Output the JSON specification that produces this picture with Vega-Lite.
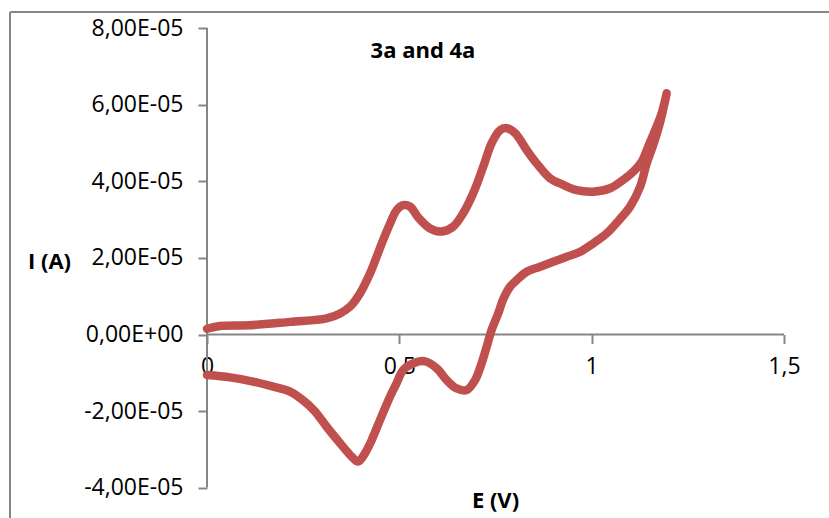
{
  "$schema": "https://vega.github.io/schema/vega-lite/v6.json",
  "width": 819,
  "height": 506,
  "autosize": "none",
  "padding": {"left": 10, "top": 12, "right": 0, "bottom": 0},
  "background": "white",
  "config": {"view": {"stroke": null}},
  "data": {"values": [{}]},
  "datasets": {
    "cv": [
      {"i": 0, "E": 0.000, "I": 0.15e-5},
      {"i": 1, "E": 0.034, "I": 0.22e-5},
      {"i": 2, "E": 0.110, "I": 0.24e-5},
      {"i": 3, "E": 0.216, "I": 0.33e-5},
      {"i": 4, "E": 0.311, "I": 0.42e-5},
      {"i": 5, "E": 0.346, "I": 0.55e-5},
      {"i": 6, "E": 0.372, "I": 0.73e-5},
      {"i": 7, "E": 0.398, "I": 1.08e-5},
      {"i": 8, "E": 0.424, "I": 1.60e-5},
      {"i": 9, "E": 0.441, "I": 2.03e-5},
      {"i": 10, "E": 0.458, "I": 2.47e-5},
      {"i": 11, "E": 0.476, "I": 2.90e-5},
      {"i": 12, "E": 0.493, "I": 3.25e-5},
      {"i": 13, "E": 0.510, "I": 3.38e-5},
      {"i": 14, "E": 0.528, "I": 3.34e-5},
      {"i": 15, "E": 0.549, "I": 3.06e-5},
      {"i": 16, "E": 0.580, "I": 2.77e-5},
      {"i": 17, "E": 0.610, "I": 2.69e-5},
      {"i": 18, "E": 0.640, "I": 2.82e-5},
      {"i": 19, "E": 0.666, "I": 3.17e-5},
      {"i": 20, "E": 0.692, "I": 3.69e-5},
      {"i": 21, "E": 0.718, "I": 4.38e-5},
      {"i": 22, "E": 0.740, "I": 5.00e-5},
      {"i": 23, "E": 0.762, "I": 5.34e-5},
      {"i": 24, "E": 0.779, "I": 5.39e-5},
      {"i": 25, "E": 0.801, "I": 5.26e-5},
      {"i": 26, "E": 0.831, "I": 4.82e-5},
      {"i": 27, "E": 0.857, "I": 4.47e-5},
      {"i": 28, "E": 0.892, "I": 4.08e-5},
      {"i": 29, "E": 0.926, "I": 3.91e-5},
      {"i": 30, "E": 0.961, "I": 3.77e-5},
      {"i": 31, "E": 1.004, "I": 3.73e-5},
      {"i": 32, "E": 1.048, "I": 3.82e-5},
      {"i": 33, "E": 1.082, "I": 4.04e-5},
      {"i": 34, "E": 1.108, "I": 4.25e-5},
      {"i": 35, "E": 1.130, "I": 4.51e-5},
      {"i": 36, "E": 1.147, "I": 4.91e-5},
      {"i": 37, "E": 1.165, "I": 5.34e-5},
      {"i": 38, "E": 1.182, "I": 5.78e-5},
      {"i": 39, "E": 1.195, "I": 6.30e-5},
      {"i": 40, "E": 1.178, "I": 5.55e-5},
      {"i": 41, "E": 1.160, "I": 4.95e-5},
      {"i": 42, "E": 1.143, "I": 4.47e-5},
      {"i": 43, "E": 1.126, "I": 3.86e-5},
      {"i": 44, "E": 1.100, "I": 3.34e-5},
      {"i": 45, "E": 1.074, "I": 3.02e-5},
      {"i": 46, "E": 1.039, "I": 2.64e-5},
      {"i": 47, "E": 1.004, "I": 2.38e-5},
      {"i": 48, "E": 0.970, "I": 2.16e-5},
      {"i": 49, "E": 0.935, "I": 2.03e-5},
      {"i": 50, "E": 0.900, "I": 1.90e-5},
      {"i": 51, "E": 0.866, "I": 1.77e-5},
      {"i": 52, "E": 0.831, "I": 1.64e-5},
      {"i": 53, "E": 0.805, "I": 1.42e-5},
      {"i": 54, "E": 0.788, "I": 1.25e-5},
      {"i": 55, "E": 0.770, "I": 0.92e-5},
      {"i": 56, "E": 0.757, "I": 0.55e-5},
      {"i": 57, "E": 0.740, "I": 0.12e-5},
      {"i": 58, "E": 0.727, "I": -0.32e-5},
      {"i": 59, "E": 0.714, "I": -0.75e-5},
      {"i": 60, "E": 0.697, "I": -1.19e-5},
      {"i": 61, "E": 0.675, "I": -1.45e-5},
      {"i": 62, "E": 0.649, "I": -1.41e-5},
      {"i": 63, "E": 0.623, "I": -1.19e-5},
      {"i": 64, "E": 0.597, "I": -0.88e-5},
      {"i": 65, "E": 0.567, "I": -0.70e-5},
      {"i": 66, "E": 0.540, "I": -0.74e-5},
      {"i": 67, "E": 0.510, "I": -0.93e-5},
      {"i": 68, "E": 0.493, "I": -1.27e-5},
      {"i": 69, "E": 0.476, "I": -1.62e-5},
      {"i": 70, "E": 0.450, "I": -2.23e-5},
      {"i": 71, "E": 0.428, "I": -2.76e-5},
      {"i": 72, "E": 0.411, "I": -3.10e-5},
      {"i": 73, "E": 0.393, "I": -3.32e-5},
      {"i": 74, "E": 0.376, "I": -3.19e-5},
      {"i": 75, "E": 0.346, "I": -2.84e-5},
      {"i": 76, "E": 0.311, "I": -2.41e-5},
      {"i": 77, "E": 0.280, "I": -2.00e-5},
      {"i": 78, "E": 0.250, "I": -1.72e-5},
      {"i": 79, "E": 0.216, "I": -1.49e-5},
      {"i": 80, "E": 0.172, "I": -1.36e-5},
      {"i": 81, "E": 0.120, "I": -1.23e-5},
      {"i": 82, "E": 0.060, "I": -1.12e-5},
      {"i": 83, "E": 0.000, "I": -1.06e-5}
    ]
  },
  "layer": [
    {
      "mark": {"type": "rule", "color": "#868686", "strokeWidth": 2},
      "encoding": {
        "x": {"datum": -0.51213, "type": "quantitative"},
        "y": {"datum": -4.7936e-5, "type": "quantitative"},
        "y2": {"datum": 8.4248e-5}
      }
    },
    {
      "mark": {"type": "rule", "color": "#868686", "strokeWidth": 2},
      "encoding": {
        "y": {"datum": 8.4248e-5, "type": "quantitative"},
        "x": {"datum": -0.51213, "type": "quantitative"},
        "x2": {"datum": 1.617}
      }
    },
    {
      "mark": {"type": "rule", "color": "#868686", "strokeWidth": 2},
      "encoding": {
        "x": {"datum": 0, "type": "quantitative"},
        "y": {"datum": -4e-5, "type": "quantitative"},
        "y2": {"datum": 8e-5}
      }
    },
    {
      "mark": {"type": "rule", "color": "#868686", "strokeWidth": 2},
      "encoding": {
        "y": {"datum": 0, "type": "quantitative"},
        "x": {"datum": 0, "type": "quantitative"},
        "x2": {"datum": 1.5}
      }
    },
    {
      "data": {"name": "cv"},
      "mark": {"type": "line", "color": "#C0504D", "strokeWidth": 8.5, "strokeCap": "round", "strokeJoin": "round", "interpolate": "catmull-rom"},
      "encoding": {
        "order": {"field": "i", "type": "quantitative"},
        "x": {
          "field": "E", "type": "quantitative",
          "scale": {"domain": [-0.51213, 1.617], "nice": false, "zero": false},
          "axis": {
            "orient": "bottom", "offset": -183.5, "values": [0, 0.5, 1, 1.5],
            "domain": false, "grid": false, "ticks": true, "tickSize": 9, "tickWidth": 2, "tickColor": "#868686",
            "labelExpr": "replace(toString(datum.value), '.', ',')",
            "labelFont": "Open Sans", "labelFontSize": 23, "labelColor": "#000000", "labelPadding": 12,
            "labelFlush": false, "labelOverlap": false, "labelBound": false,
            "title": "E (V)", "titleX": 485, "titleY": 166, "titleAlign": "center", "titleBaseline": "middle", "titleAngle": 0,
            "titleFont": "Open Sans", "titleFontSize": 22, "titleFontWeight": "bold", "titleColor": "#000000"
          }
        },
        "y": {
          "field": "I", "type": "quantitative",
          "scale": {"domain": [-4.7936e-5, 8.4248e-5], "nice": false, "zero": false},
          "axis": {
            "orient": "left", "offset": -197, "values": [-4e-5, -2e-5, 0, 2e-5, 4e-5, 6e-5, 8e-5],
            "domain": false, "grid": false, "ticks": true, "tickSize": 9, "tickWidth": 2, "tickColor": "#868686",
            "labelExpr": "abs(datum.value) < 1e-12 ? '0,00E+00' : (datum.value < 0 ? '-' : '') + replace(format(abs(datum.value) * 1e5, '.2f'), '.', ',') + 'E-05'",
            "labelFont": "Open Sans", "labelFontSize": 23, "labelColor": "#000000", "labelPadding": 15,
            "labelFlush": false, "labelOverlap": false, "labelBound": false,
            "title": "I (A)", "titleX": -158, "titleY": 249, "titleAlign": "center", "titleBaseline": "middle", "titleAngle": 0,
            "titleFont": "Open Sans", "titleFontSize": 22, "titleFontWeight": "bold", "titleColor": "#000000"
          }
        }
      }
    },
    {
      "mark": {"type": "text", "font": "Open Sans", "fontSize": 22, "fontWeight": "bold", "align": "center", "baseline": "middle", "color": "#000000"},
      "encoding": {
        "x": {"datum": 0.5615, "type": "quantitative"},
        "y": {"datum": 7.41e-5, "type": "quantitative"},
        "text": {"value": "3a and 4a"}
      }
    }
  ]
}
